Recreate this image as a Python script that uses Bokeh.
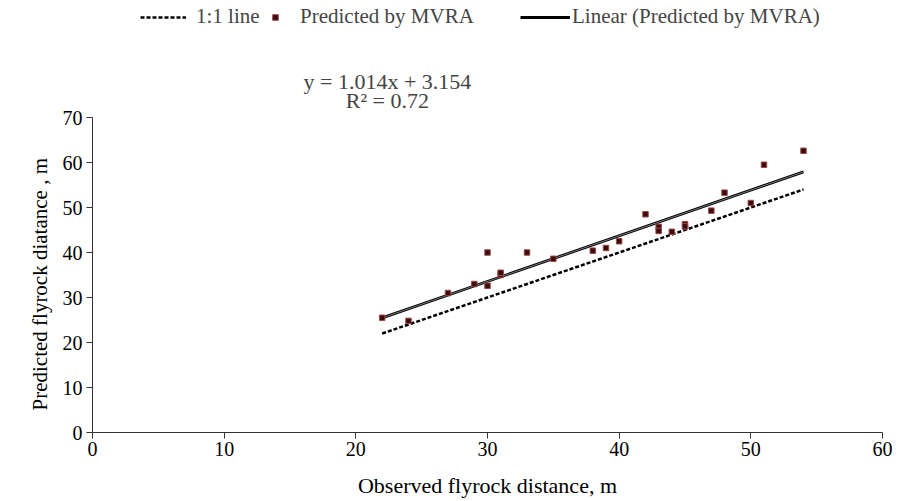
from bokeh.plotting import figure
from bokeh.models import Range1d, Label, Legend, LegendItem, FixedTicker, Title
from bokeh.embed import file_html
from bokeh.resources import INLINE

# Data
observed = [22, 24, 27, 29, 30, 30, 31, 31, 33, 35, 38, 39, 40, 42, 43, 43, 44, 45, 45, 47, 48, 50, 51, 54]
predicted = [25.5, 24.8, 31.0, 33.0, 40.0, 32.6, 35.0, 35.5, 40.0, 38.6, 40.4, 41.0, 42.5, 48.5, 45.7, 44.8,
             44.6, 46.3, 45.8, 49.3, 53.3, 51.0, 59.5, 62.6]
line_x = [22, 54]
slope = 1.014
intercept = 3.154
r_squared = 0.72
x_ticks = [0, 10, 20, 30, 40, 50, 60]
y_ticks = [0, 10, 20, 30, 40, 50, 60, 70]

FONT = "Liberation Serif"

# frame spans y 0..96 so the header texts sit inside it; the y axis is bounded to 0..70
p = figure(width=907, height=501, output_backend="svg", toolbar_location=None,
           x_range=Range1d(0, 60), y_range=Range1d(0, 96.0),
           min_border_left=92, min_border_right=25, min_border_top=0, min_border_bottom=69)

p.xgrid.visible = False
p.ygrid.visible = False
p.outline_line_color = None
p.background_fill_color = "white"
p.border_fill_color = "white"

one_to_one = p.line(line_x, line_x, line_color="black", line_width=2.5, line_dash="4 2")
trend_y = [slope * x + intercept for x in line_x]
trend = p.line(line_x, trend_y, line_color="black", line_width=2.8)
p.line(line_x, trend_y, line_color="#9a9a9a", line_width=0.8)
pts = p.scatter(observed, predicted, marker="square", size=5.5, fill_color="#3a0d0d",
                line_color="#a04848", line_width=1)

for ax, ticks in ((p.xaxis, x_ticks), (p.yaxis, y_ticks)):
    ax.ticker = FixedTicker(ticks=ticks)
    ax.minor_tick_line_color = None
    ax.major_tick_out = 6
    ax.major_tick_in = 0
    ax.axis_line_color = "#333333"
    ax.major_tick_line_color = "#333333"
    ax.major_label_text_font = FONT
    ax.major_label_text_font_size = "20px"
    ax.major_label_text_color = "black"
    ax.axis_label_text_font = FONT
    ax.axis_label_text_font_size = "22px"
    ax.axis_label_text_font_style = "normal"
    ax.axis_label_text_color = "black"

p.yaxis.bounds = (0, 70)
p.xaxis.axis_label = "Observed flyrock distance, m"
p.xaxis.major_label_standoff = 3
p.yaxis.major_label_standoff = 4
p.xaxis.axis_label_standoff = 14

ytitle = Title(text="Predicted flyrock diatance , m", align="left", offset=22,
               text_font=FONT, text_font_size="21px", text_font_style="normal",
               text_color="black", standoff=16)
p.add_layout(ytitle, "left")

eq1 = Label(x=22.4, y=78.0, text=f"y = {slope}x + {intercept}", text_font=FONT,
            text_font_size="22px", text_align="center", text_baseline="middle")
eq2 = Label(x=22.4, y=73.7, text=f"R² = {r_squared}", text_font=FONT,
            text_font_size="22px", text_align="center", text_baseline="middle")
p.add_layout(eq1)
p.add_layout(eq2)

common = dict(orientation="horizontal", label_text_font=FONT, label_text_font_size="21px",
              border_line_color=None, background_fill_alpha=0, margin=0, padding=0)
leg1 = Legend(items=[LegendItem(label="1:1 line", renderers=[one_to_one])],
              location=(48, 403), glyph_width=46, label_standoff=10, **common)
leg2 = Legend(items=[LegendItem(label="Predicted by MVRA", renderers=[pts])],
              location=(176, 403), glyph_width=14, label_standoff=18, **common)
leg3 = Legend(items=[LegendItem(label="Linear (Predicted by MVRA)", renderers=[trend])],
              location=(428, 403), glyph_width=50, label_standoff=2, **common)
for lg in (leg1, leg2, leg3):
    p.add_layout(lg)

open("out.html", "w").write(file_html(p, INLINE))
